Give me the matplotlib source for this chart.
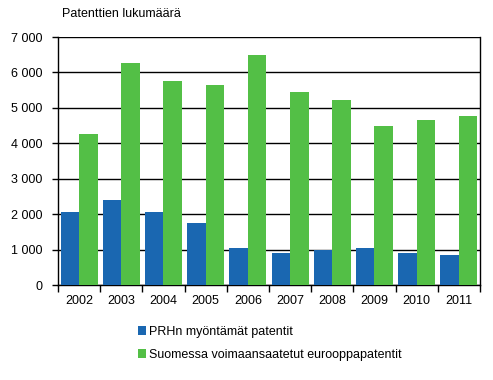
import matplotlib
matplotlib.use("Agg")
import matplotlib.pyplot as plt
import numpy as np
from matplotlib.ticker import FuncFormatter

years = ["2002", "2003", "2004", "2005", "2006", "2007", "2008", "2009", "2010", "2011"]
prh = [2065, 2400, 2065, 1755, 1050, 910, 995, 1050, 910, 855]
euro = [4265, 6270, 5760, 5650, 6490, 5450, 5225, 4490, 4660, 4775]
labels = ["PRHn myöntämät patentit", "Suomessa voimaansaatetut eurooppapatentit"]

blue = "#1a67b1"
green = "#53bf46"

plt.rcParams["font.family"] = ["Liberation Sans", "DejaVu Sans"]
plt.rcParams["font.size"] = 9

fig = plt.figure(figsize=(4.93, 3.8), dpi=100)
ax = fig.add_axes([0.1176, 0.249, 0.856, 0.6536])

x = np.arange(len(years))
w = 0.44
b1 = ax.bar(x - w / 2, prh, w, color=blue, label=labels[0], zorder=3)
b2 = ax.bar(x + w / 2, euro, w, color=green, label=labels[1], zorder=3)

ax.set_xlim(-0.5, len(years) - 0.5)
ax.set_ylim(0, 7000)
ax.set_yticks(range(0, 7001, 1000))
ax.yaxis.set_major_formatter(FuncFormatter(lambda v, p: f"{int(v):,}".replace(",", " ")))
ax.yaxis.grid(True, color="black", linewidth=1, zorder=1)

# year labels centered, ticks on category boundaries
ax.set_xticks(x)
ax.set_xticklabels(years)
ax.tick_params(axis="x", which="major", length=0, pad=7)
ax.set_xticks(np.arange(-0.5, len(years), 1), minor=True)
ax.tick_params(axis="x", which="minor", length=5, width=1, direction="out")
ax.tick_params(axis="y", length=4, width=1, direction="out", pad=7)

for s in ["left", "bottom", "right"]:
    ax.spines[s].set_linewidth(1)
    ax.spines[s].set_color("black")
ax.spines["top"].set_visible(False)

fig.text(0.126, 0.962, "Patenttien lukumäärä", ha="left", va="center", fontsize=9)

fig.legend(handles=[b1, b2], labels=labels, loc="upper left",
           bbox_to_anchor=(0.279, 0.142), frameon=False, handlelength=0.7,
           handleheight=0.7, handletextpad=0.2, labelspacing=0.85, fontsize=9,
           borderaxespad=0, borderpad=0)

fig.savefig("out.png", dpi=100)
